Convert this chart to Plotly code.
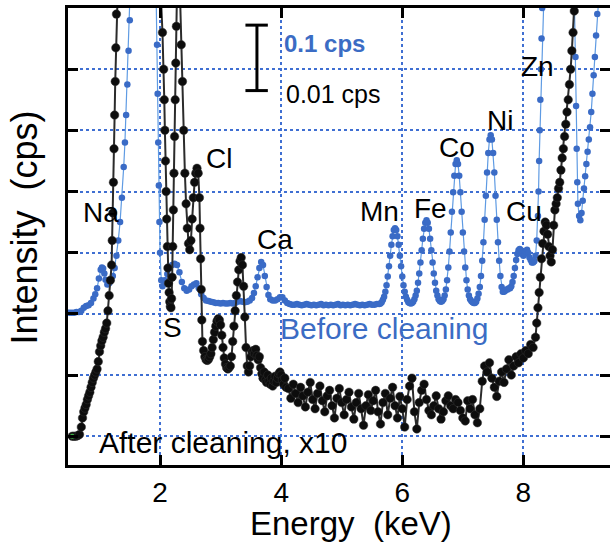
import plotly.graph_objects as go

# ---------------- data (energy in keV, intensity in arbitrary grid units) ----------------
before_x = [
    0.50, 0.54, 0.58, 0.62, 0.66, 0.70, 0.74, 0.78, 0.82, 0.86, 0.90, 0.93, 0.96, 0.99, 1.02, 1.04,
    1.06, 1.08, 1.10, 1.13, 1.16, 1.19, 1.22, 1.25, 1.28, 1.31, 1.34, 1.37, 1.40, 1.42, 1.44, 1.46,
    1.48, 1.50, 1.52, 1.55, 1.60, 1.75, 1.88, 1.92, 1.935, 1.95, 1.96, 1.97, 1.98, 1.99, 2.00, 2.02,
    2.04, 2.08, 2.12, 2.16, 2.20, 2.24, 2.28, 2.32, 2.36, 2.40, 2.44, 2.48, 2.52, 2.56, 2.60, 2.64,
    2.68, 2.72, 2.76, 2.80, 2.84, 2.88, 2.92, 2.96, 3.00, 3.04, 3.08, 3.12, 3.16, 3.20, 3.24, 3.28,
    3.32, 3.36, 3.40, 3.44, 3.48, 3.52, 3.55, 3.58, 3.61, 3.64, 3.67, 3.70, 3.73, 3.76, 3.79, 3.82,
    3.86, 3.90, 3.94, 3.98, 4.02, 4.06, 4.10, 4.14, 4.18, 4.22, 4.26, 4.30, 4.34, 4.38, 4.42, 4.46,
    4.50, 4.54, 4.58, 4.62, 4.66, 4.70, 4.74, 4.78, 4.82, 4.86, 4.90, 4.94, 4.98, 5.02, 5.06, 5.10,
    5.14, 5.18, 5.22, 5.26, 5.30, 5.34, 5.38, 5.42, 5.46, 5.50, 5.54, 5.58, 5.62, 5.64, 5.66, 5.68,
    5.70, 5.72, 5.74, 5.76, 5.78, 5.80, 5.82, 5.84, 5.86, 5.88, 5.90, 5.92, 5.94, 5.96, 5.98, 6.00,
    6.02, 6.04, 6.06, 6.08, 6.10, 6.12, 6.14, 6.16, 6.18, 6.20, 6.22, 6.24, 6.26, 6.28, 6.30, 6.32,
    6.34, 6.36, 6.38, 6.40, 6.42, 6.44, 6.46, 6.48, 6.50, 6.52, 6.54, 6.56, 6.58, 6.60, 6.62, 6.64,
    6.66, 6.68, 6.70, 6.72, 6.74, 6.76, 6.78, 6.80, 6.82, 6.84, 6.86, 6.88, 6.90, 6.92, 6.94, 6.96,
    6.98, 7.00, 7.02, 7.04, 7.06, 7.08, 7.10, 7.12, 7.14, 7.16, 7.18, 7.20, 7.22, 7.24, 7.26, 7.28,
    7.30, 7.32, 7.34, 7.36, 7.38, 7.40, 7.42, 7.44, 7.46, 7.48, 7.50, 7.52, 7.54, 7.56, 7.58, 7.60,
    7.62, 7.64, 7.66, 7.68, 7.70, 7.72, 7.74, 7.76, 7.78, 7.80, 7.82, 7.84, 7.86, 7.88, 7.90, 7.92,
    7.94, 7.96, 7.98, 8.00, 8.02, 8.04, 8.06, 8.08, 8.10, 8.12, 8.14, 8.16, 8.18, 8.20, 8.22, 8.24,
    8.25, 8.26, 8.27, 8.28, 8.29, 8.30, 8.31, 8.33, 8.36, 8.45, 8.60, 8.75, 8.80, 8.82, 8.84, 8.86,
    8.87, 8.88, 8.89, 8.90, 8.92, 8.94, 8.96, 8.98, 9.00, 9.02, 9.04, 9.06, 9.08, 9.10, 9.12, 9.14,
    9.16, 9.18, 9.20, 9.22, 9.25, 9.30, 9.40,
]
before_y = [
    2.02, 2.02, 2.02, 2.03, 2.03, 2.05, 2.10, 2.13, 2.14, 2.18, 2.25, 2.32, 2.42, 2.58, 2.72, 2.76,
    2.74, 2.66, 2.56, 2.48, 2.50, 2.55, 2.62, 2.75, 2.95, 3.20, 3.50, 3.90, 4.40, 4.80, 5.25, 5.75,
    6.30, 6.80, 7.40, 8.50, 10.0, 11.0, 10.0, 8.20, 7.30, 6.40, 5.60, 4.80, 4.10, 3.50, 3.00, 2.55,
    2.45, 2.55, 2.65, 2.75, 2.80, 2.82, 2.80, 2.68, 2.52, 2.42, 2.38, 2.40, 2.45, 2.48, 2.50, 2.42,
    2.32, 2.26, 2.22, 2.21, 2.20, 2.19, 2.18, 2.18, 2.17, 2.18, 2.17, 2.17, 2.18, 2.17, 2.18, 2.20,
    2.21, 2.20, 2.19, 2.20, 2.22, 2.26, 2.34, 2.45, 2.60, 2.75, 2.85, 2.80, 2.62, 2.44, 2.31, 2.24,
    2.22, 2.22, 2.24, 2.27, 2.27, 2.22, 2.18, 2.16, 2.15, 2.15, 2.16, 2.15, 2.14, 2.15, 2.16, 2.15,
    2.14, 2.15, 2.14, 2.15, 2.16, 2.14, 2.15, 2.14, 2.15, 2.14, 2.15, 2.16, 2.14, 2.15, 2.14, 2.15,
    2.14, 2.15, 2.16, 2.15, 2.14, 2.15, 2.14, 2.15, 2.16, 2.15, 2.15, 2.16, 2.16, 2.17, 2.19, 2.23,
    2.28, 2.36, 2.47, 2.61, 2.78, 2.95, 3.13, 3.27, 3.37, 3.40, 3.37, 3.27, 3.13, 2.95, 2.78, 2.61,
    2.47, 2.36, 2.28, 2.23, 2.19, 2.18, 2.17, 2.18, 2.20, 2.24, 2.30, 2.38, 2.51, 2.66, 2.84, 3.04,
    3.23, 3.39, 3.49, 3.53, 3.49, 3.39, 3.23, 3.04, 2.84, 2.66, 2.51, 2.38, 2.30, 2.24, 2.21, 2.20,
    2.21, 2.24, 2.30, 2.40, 2.55, 2.76, 3.02, 3.33, 3.67, 3.99, 4.26, 4.45, 4.51, 4.45, 4.26, 3.99,
    3.67, 3.33, 3.02, 2.76, 2.55, 2.40, 2.30, 2.24, 2.21, 2.19, 2.18, 2.18, 2.20, 2.25, 2.33, 2.44,
    2.62, 2.87, 3.17, 3.54, 3.93, 4.31, 4.63, 4.85, 4.92, 4.85, 4.63, 4.31, 3.93, 3.54, 3.17, 2.87,
    2.62, 2.44, 2.36, 2.36, 2.38, 2.40, 2.40, 2.42, 2.42, 2.45, 2.52, 2.62, 2.75, 2.88, 2.98, 3.04,
    3.06, 3.04, 2.98, 2.95, 2.98, 3.02, 3.05, 3.00, 2.92, 2.88, 2.84, 2.84, 2.86, 2.95, 3.20, 3.60,
    4.00, 4.50, 5.00, 5.50, 6.00, 6.50, 7.00, 7.80, 9.00, 11.0, 12.0, 11.0, 9.50, 8.20, 7.20, 6.20,
    5.40, 4.70, 4.15, 3.80, 3.60, 3.53, 3.65, 3.85, 4.05, 4.25, 4.45, 4.65, 4.85, 5.05, 5.30, 5.60,
    5.90, 6.20, 6.55, 6.90, 7.50, 8.50, 9.50,
]

after_x = [
    0.55, 0.58, 0.61, 0.64, 0.67, 0.70, 0.72, 0.74, 0.76, 0.78, 0.80, 0.82, 0.84, 0.86, 0.88, 0.90,
    0.92, 0.94, 0.96, 0.98, 1.00, 1.02, 1.04, 1.06, 1.08, 1.10, 1.12, 1.14, 1.16, 1.18, 1.20, 1.21,
    1.22, 1.23, 1.24, 1.25, 1.26, 1.27, 1.28, 1.30, 1.35, 1.45, 1.60, 1.75, 1.90, 1.96, 2.00, 2.04,
    2.06, 2.07, 2.08, 2.09, 2.10, 2.11, 2.12, 2.13, 2.14, 2.15, 2.16, 2.17, 2.18, 2.19, 2.20, 2.21,
    2.22, 2.23, 2.24, 2.25, 2.26, 2.27, 2.28, 2.31, 2.33, 2.35, 2.37, 2.39, 2.41, 2.43, 2.45, 2.47,
    2.49, 2.51, 2.53, 2.55, 2.57, 2.59, 2.61, 2.63, 2.65, 2.66, 2.67, 2.68, 2.69, 2.70, 2.72, 2.74,
    2.76, 2.78, 2.80, 2.82, 2.84, 2.86, 2.88, 2.90, 2.92, 2.94, 2.96, 2.98, 3.00, 3.02, 3.04, 3.06,
    3.08, 3.10, 3.12, 3.14, 3.16, 3.18, 3.20, 3.22, 3.24, 3.26, 3.28, 3.30, 3.32, 3.34, 3.36, 3.38,
    3.40, 3.42, 3.44, 3.46, 3.48, 3.50, 3.52, 3.54, 3.56, 3.58, 3.60, 3.62, 3.64, 3.66, 3.68, 3.70,
    3.72, 3.74, 3.76, 3.78, 3.80, 3.82, 3.84, 3.86, 3.88, 3.90, 3.92, 3.94, 3.96, 3.98, 4.00, 4.02,
    4.04, 4.06, 4.08, 4.12, 4.16, 4.20, 4.24, 4.28, 4.32, 4.36, 4.40, 4.44, 4.48, 4.52, 4.56, 4.60,
    4.64, 4.68, 4.72, 4.76, 4.80, 4.84, 4.88, 4.92, 4.96, 5.00, 5.04, 5.08, 5.12, 5.16, 5.20, 5.24,
    5.28, 5.32, 5.36, 5.40, 5.44, 5.48, 5.52, 5.56, 5.60, 5.64, 5.68, 5.72, 5.76, 5.80, 5.84, 5.88,
    5.92, 5.96, 6.00, 6.04, 6.08, 6.12, 6.16, 6.20, 6.24, 6.28, 6.32, 6.36, 6.40, 6.44, 6.48, 6.52,
    6.56, 6.60, 6.64, 6.68, 6.72, 6.76, 6.80, 6.84, 6.88, 6.92, 6.96, 7.00, 7.04, 7.08, 7.12, 7.16,
    7.20, 7.24, 7.28, 7.32, 7.36, 7.40, 7.44, 7.48, 7.52, 7.56, 7.60, 7.64, 7.68, 7.72, 7.76, 7.80,
    7.84, 7.88, 7.92, 7.96, 8.00, 8.04, 8.08, 8.12, 8.16, 8.20, 8.22, 8.24, 8.26, 8.28, 8.30, 8.32,
    8.34, 8.36, 8.38, 8.40, 8.42, 8.44, 8.46, 8.48, 8.50, 8.52, 8.54, 8.56, 8.58, 8.60, 8.62, 8.64,
    8.66, 8.68, 8.70, 8.72, 8.74, 8.76, 8.78, 8.80, 8.82, 8.84, 8.86, 8.90, 9.00, 9.20, 9.45,
]
after_y = [
    0.00, 0.00, 0.00, 0.01, 0.03, 0.15, 0.30, 0.40, 0.46, 0.52, 0.60, 0.66, 0.72, 0.80, 0.88, 0.95,
    1.00, 1.05, 1.10, 1.22, 1.38, 1.48, 1.56, 1.62, 1.70, 1.76, 1.85, 2.05, 2.30, 2.55, 2.80, 3.20,
    3.65, 4.15, 4.70, 5.25, 5.80, 6.35, 6.90, 7.60, 9.00, 11.0, 12.0, 12.0, 11.0, 9.00, 7.50, 6.60,
    6.00, 5.50, 5.00, 4.50, 4.00, 3.55, 3.10, 2.75, 2.50, 2.35, 2.20, 2.12, 2.10, 2.25, 2.60, 3.10,
    3.70, 4.30, 4.90, 5.50, 6.10, 6.70, 7.30, 9.00, 7.20, 6.40, 5.80, 5.00, 4.30, 3.80, 3.40, 3.15,
    3.05, 3.20, 3.55, 3.90, 4.15, 4.30, 4.38, 4.30, 3.90, 3.40, 2.90, 2.40, 1.90, 1.55, 1.40, 1.30,
    1.25, 1.24, 1.26, 1.30, 1.35, 1.45, 1.58, 1.70, 1.80, 1.88, 1.92, 1.90, 1.82, 1.65, 1.45, 1.28,
    1.18, 1.12, 1.10, 1.12, 1.15, 1.30, 1.55, 1.80, 2.05, 2.30, 2.52, 2.72, 2.86, 2.92, 2.80, 2.45,
    1.95, 1.45, 1.15, 1.05, 1.15, 1.30, 1.38, 1.40, 1.35, 1.42, 1.32, 1.25, 1.30, 1.12, 1.02, 0.95,
    1.05, 0.92, 0.88, 1.00, 0.90, 0.85, 0.95, 0.82, 0.90, 0.98, 0.88, 0.95, 1.02, 1.05, 1.00, 0.92,
    0.85, 0.95, 0.80, 0.78, 0.62, 0.85, 0.70, 0.55, 0.80, 0.66, 0.48, 0.72, 0.88, 0.60, 0.45, 0.70,
    0.82, 0.58, 0.40, 0.66, 0.75, 0.50, 0.30, 0.62, 0.78, 0.55, 0.35, 0.60, 0.72, 0.48, 0.28, 0.55,
    0.70, 0.45, 0.18, 0.50, 0.68, 0.42, 0.58, 0.75, 0.40, 0.20, 0.55, 0.70, 0.35, 0.62, 0.80, 0.50,
    0.30, 0.65, 0.45, 0.15, 0.60, 0.82, 0.95, 0.40, 0.12, 0.55, 0.75, 0.85, 0.60, 0.42, 0.35, 0.50,
    0.66, 0.45, 0.28, 0.40, 0.58, 0.66, 0.50, 0.45, 0.60, 0.55, 0.42, 0.30, 0.25, 0.58, 0.45, 0.60,
    0.35, 0.22, 0.45, 0.90, 1.15, 1.05, 1.20, 0.95, 0.80, 0.65, 0.90, 1.05, 0.88, 1.10, 1.25, 1.00,
    1.15, 1.30, 1.20, 1.35, 1.28, 1.40, 1.35, 1.50, 1.45, 1.62, 1.85, 2.10, 2.35, 2.60, 2.90, 3.15,
    3.35, 3.50, 3.45, 3.30, 3.10, 2.95, 2.85, 3.05, 3.45, 3.70, 3.80, 3.90, 4.05, 4.15, 4.35, 4.55,
    4.70, 4.90, 5.10, 5.30, 5.50, 5.75, 6.00, 6.30, 6.60, 6.95, 7.40, 8.50, 10.0, 11.0, 11.5,
]

start_x = [0.55]
start_y = [0.0]

element_labels = ["Na", "Cl", "Ca", "S", "Mn", "Fe", "Co", "Ni", "Cu", "Zn"]
element_x = [1.03, 2.97, 3.90, 2.20, 5.62, 6.46, 6.90, 7.62, 8.01, 8.24]
element_y = [3.66, 4.54, 3.22, 1.78, 3.68, 3.73, 4.72, 5.16, 3.68, 6.05]

x_ticks = [2, 4, 6, 8]
y_ticks = [0, 1, 2, 3, 4, 5, 6]

# ---------------- styling ----------------
FONT = "Liberation Sans, Arial, Helvetica, sans-serif"
BLUE_MK = "#3a6bc6"
BLUE_LN = "#5f9be3"
BLUE_TXT = "#3b6cc4"
GRID = "#3f6fd2"

fig = go.Figure()

fig.add_trace(go.Scatter(
    x=before_x, y=before_y, mode="lines+markers",
    line=dict(color=BLUE_LN, width=1.2),
    marker=dict(color=BLUE_MK, size=6.5),
    showlegend=False, name="Before cleaning",
))
fig.add_trace(go.Scatter(
    x=after_x, y=after_y, mode="lines+markers",
    line=dict(color="#2b2b2b", width=2),
    marker=dict(color="#0d0d0d", size=8.5, line=dict(color="#333333", width=0.5)),
    showlegend=False, name="After cleaning, x10",
))
fig.add_trace(go.Scatter(
    x=start_x, y=start_y, mode="markers",
    marker=dict(color="#3cb043", size=5),
    showlegend=False,
))
# dummy trace so the right-hand tick axis renders
fig.add_trace(go.Scatter(x=[None], y=[None], yaxis="y2", showlegend=False))

# element labels
for lab, lx, ly in zip(element_labels, element_x, element_y):
    fig.add_annotation(x=lx, y=ly, text=lab, showarrow=False,
                       font=dict(family=FONT, size=28, color="black"),
                       xanchor="center", yanchor="middle")

fig.add_annotation(x=5.70, y=1.76, text="Before cleaning", showarrow=False,
                   font=dict(family=FONT, size=30, color=BLUE_TXT),
                   xanchor="center", yanchor="middle")
fig.add_annotation(x=3.04, y=-0.11, text="After cleaning, x10", showarrow=False,
                   font=dict(family=FONT, size=30, color="black"),
                   xanchor="center", yanchor="middle")
fig.add_annotation(x=4.72, y=6.42, text="<b>0.1 cps</b>", showarrow=False,
                   font=dict(family=FONT, size=24, color=BLUE_TXT),
                   xanchor="center", yanchor="middle")
fig.add_annotation(x=4.87, y=5.59, text="0.01 cps", showarrow=False,
                   font=dict(family=FONT, size=25, color="black"),
                   xanchor="center", yanchor="middle")

# scale bar
SB_X, SB_X0, SB_X1, SB_Y0, SB_Y1 = 3.60, 3.41, 3.78, 5.65, 6.72
bar = dict(color="black", width=3)
fig.add_shape(type="line", x0=SB_X, x1=SB_X, y0=SB_Y0, y1=SB_Y1, line=bar)
fig.add_shape(type="line", x0=SB_X0, x1=SB_X1, y0=SB_Y0, y1=SB_Y0, line=bar)
fig.add_shape(type="line", x0=SB_X0, x1=SB_X1, y0=SB_Y1, y1=SB_Y1, line=bar)

# axis titles
fig.add_annotation(xref="paper", yref="paper", x=0.522, y=-0.127,
                   text="Energy  (keV)", showarrow=False,
                   font=dict(family=FONT, size=33, color="black"),
                   xanchor="center", yanchor="middle")
fig.add_annotation(xref="paper", yref="paper", x=-0.081, y=0.52,
                   text="Intensity  (cps)", showarrow=False, textangle=-90,
                   font=dict(family=FONT, size=36, color="black"),
                   xanchor="center", yanchor="middle")

fig.update_layout(
    width=610, height=547,
    margin=dict(l=68, r=0, t=8, b=82),
    paper_bgcolor="white", plot_bgcolor="white",
    xaxis=dict(
        range=[0.48, 9.43], tickvals=x_ticks, ticktext=[str(t) for t in x_ticks],
        ticks="inside", ticklen=10, tickwidth=2.5, tickcolor="black",
        showline=True, linewidth=3, linecolor="black", mirror="ticks",
        showgrid=True, gridcolor=GRID, gridwidth=1.5, griddash="dot",
        zeroline=False,
        tickfont=dict(family=FONT, size=28, color="black"),
    ),
    yaxis=dict(
        range=[-0.47, 7.0], tickvals=y_ticks, showticklabels=False,
        ticks="inside", ticklen=10, tickwidth=2.5, tickcolor="black",
        showline=True, linewidth=3, linecolor="black", mirror=False,
        showgrid=True, gridcolor=GRID, gridwidth=1.5, griddash="dot",
        zeroline=False,
    ),
    yaxis2=dict(
        overlaying="y", side="right", matches="y", tickvals=y_ticks,
        showticklabels=False, ticks="inside", ticklen=10, tickwidth=2.5,
        tickcolor="black", showline=False, showgrid=False, zeroline=False,
    ),
)

fig.write_html("out.html")
